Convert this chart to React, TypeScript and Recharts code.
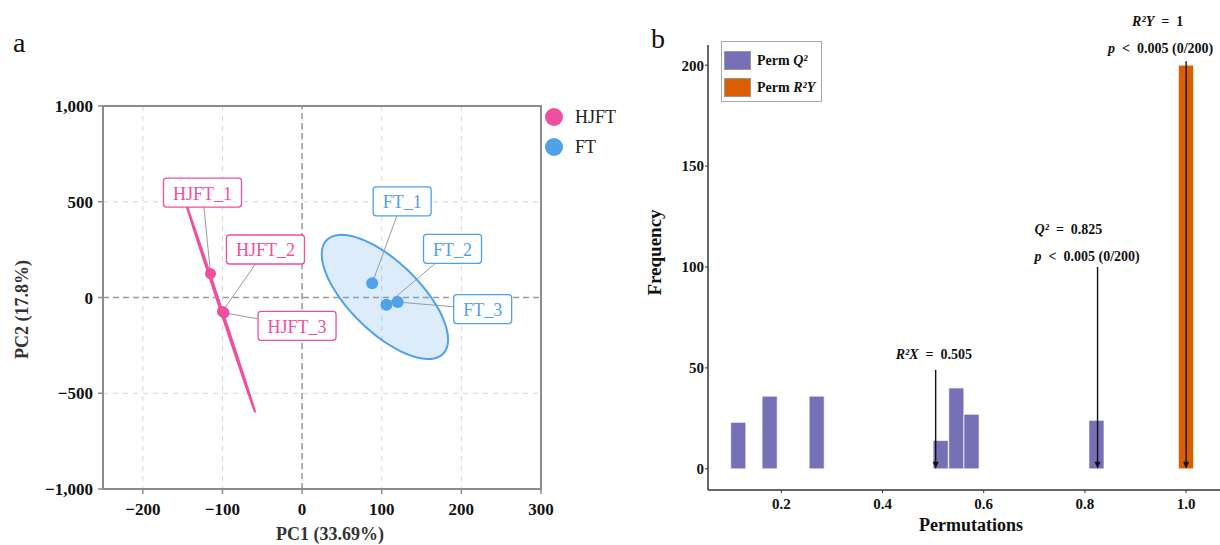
import React from 'react';
import {
  ScatterChart,
  Scatter,
  ComposedChart,
  Bar,
  Cell,
  XAxis,
  YAxis,
  CartesianGrid,
  ReferenceLine,
  ReferenceArea,
  Legend,
  Label,
} from 'recharts';

const SERIF = '"Liberation Serif", "Times New Roman", serif';

// ---- panel a: PCA scores ----
const HJFT_NAMES = ['HJFT_1', 'HJFT_2', 'HJFT_3'];
const HJFT_PC1 = [-115, -100, -98];
const HJFT_PC2 = [125, -73, -80];
const FT_NAMES = ['FT_1', 'FT_2', 'FT_3'];
const FT_PC1 = [88, 106, 120];
const FT_PC2 = [74, -38, -24];

const GROUPS = ['HJFT', 'FT'];
const GROUP_COLORS = ['#ef4f9f', '#4fa1ea'];

// confidence ellipses: centre + two half-axis vectors, in data units
const HJFT_ELLIPSE = { cx: -102, cy: -60, ux: 43, uy: -539, vx: 1.0, vy: 1.3 };
const FT_ELLIPSE = { cx: 104, cy: 3, ux: 73, uy: -297, vx: 31, vy: 130 };

const PC1_TICKS = [-200, -100, 0, 100, 200, 300];
const PC2_TICKS = [-1000, -500, 0, 500, 1000];

// label box offsets from the point, px
const LABEL_OFFSET: Record<string, [number, number]> = {
  HJFT_1: [-8, -81],
  HJFT_2: [43, -62],
  HJFT_3: [73, 13],
  FT_1: [30, -82],
  FT_2: [66, -56],
  FT_3: [85, 7],
};

// ---- panel b: permutation test ----
const Q2_BINS = [0.115, 0.177, 0.27, 0.515, 0.546, 0.576, 0.823];
const Q2_COUNTS = [23, 36, 36, 14, 40, 27, 24];
const R2Y_BINS = [1.0];
const R2Y_COUNTS = [200];
const PERM_X_TICKS = [0.2, 0.4, 0.6, 0.8, 1.0];
const FREQ_TICKS = [0, 50, 100, 150, 200];

const ANNOT_X = [0.505, 0.825, 1.0];
const ANNOT_TOP = [49, 100, 202];
type Seg = [string, boolean];
const ANNOT_TEXT: Seg[][][] = [
  [[['R²X', true], ['\u2002=\u20020.505', false]]],
  [
    [['Q²', true], ['\u2002=\u20020.825', false]],
    [['p', true], ['\u2002<\u20020.005 (0/200)', false]],
  ],
  [
    [['R²Y', true], ['\u2002=\u20021', false]],
    [['p', true], ['\u2002<\u20020.005 (0/200)', false]],
  ],
];
const ANNOT_LAYOUT: [number, number][][] = [
  [[-40, -16]],
  [[-63, -38], [-63, -11]],
  [[-54, -40], [-78, -13]],
];

const PURPLE = '#7671b6';
const ORANGE = '#d95f02';

const fmtMinus = (v: number) =>
  (v < 0 ? '\u2212' : '') + Math.abs(v).toLocaleString('en-US');

function ellipsePoints(e: typeof FT_ELLIPSE) {
  const pts = [];
  for (let i = 0; i <= 90; i++) {
    const t = (i / 90) * Math.PI * 2;
    pts.push({
      x: e.cx + e.ux * Math.cos(t) + e.vx * Math.sin(t),
      y: e.cy + e.uy * Math.cos(t) + e.vy * Math.sin(t),
    });
  }
  return pts;
}

const ellipsePath = (stroke: string, fill: string, opacity: number, width: number) =>
  (props: any) => {
    const d =
      props.points.map((p: any, i: number) => `${i ? 'L' : 'M'}${p.x},${p.y}`).join('') + 'Z';
    return <path d={d} fill={fill} fillOpacity={opacity} stroke={stroke} strokeWidth={width} />;
  };

const pointWithLabel = (color: string, r: number) => (props: any) => {
  const { cx, cy, payload } = props;
  const [dx, dy] = LABEL_OFFSET[payload.name];
  const w = payload.name.length * 10 + 18;
  const h = 29;
  const lx = cx + dx;
  const ly = cy + dy;
  return (
    <g>
      <line x1={cx} y1={cy} x2={lx} y2={ly} stroke="#9a9a9a" strokeWidth={1} />
      <rect x={lx - w / 2} y={ly - h / 2} width={w} height={h} rx={3} fill="#fff" stroke={color} strokeWidth={1.3} />
      <text x={lx} y={ly + 1} textAnchor="middle" dominantBaseline="central" fill={color} fontSize={18} fontFamily={SERIF}>
        {payload.name}
      </text>
      <circle cx={cx} cy={cy} r={r} fill={color} />
    </g>
  );
};

function PcaLegend() {
  return (
    <div style={{ fontFamily: SERIF, fontSize: 18, color: '#222' }}>
      {GROUPS.map((g, i) => (
        <div key={g} style={{ display: 'flex', alignItems: 'center', height: 30 }}>
          <svg width={20} height={20}>
            <circle cx={10} cy={10} r={9} fill={GROUP_COLORS[i]} />
          </svg>
          <span style={{ marginLeft: 11 }}>{g}</span>
        </div>
      ))}
    </div>
  );
}

function PcaChart() {
  const hjft = HJFT_NAMES.map((name, i) => ({ name, x: HJFT_PC1[i], y: HJFT_PC2[i] }));
  const ft = FT_NAMES.map((name, i) => ({ name, x: FT_PC1[i], y: FT_PC2[i] }));
  const tickStyle = { fill: '#111', fontSize: 17, fontWeight: 700, fontFamily: SERIF };
  const axisGrey = '#8c8c8c';
  const titleStyle = { fill: '#333', fontSize: 18, fontWeight: 700, fontFamily: SERIF };
  return (
    <ScatterChart width={640} height={545} margin={{ top: 106, right: 99, bottom: 26, left: 43 }}>
      <CartesianGrid stroke="#d6d6d6" strokeDasharray="5 5" />
      <XAxis
        type="number"
        dataKey="x"
        domain={[-250, 300]}
        ticks={PC1_TICKS}
        allowDataOverflow
        tickFormatter={fmtMinus}
        height={30}
        tick={tickStyle}
        tickSize={5}
        tickMargin={9}
        axisLine={{ stroke: axisGrey, strokeWidth: 2 }}
        tickLine={{ stroke: axisGrey, strokeWidth: 1.5 }}
      >
        <Label value="PC1 (33.69%)" position="bottom" offset={8} dx={8} style={titleStyle} />
      </XAxis>
      <YAxis
        type="number"
        dataKey="y"
        domain={[-1000, 1000]}
        ticks={PC2_TICKS}
        allowDataOverflow
        tickFormatter={fmtMinus}
        width={60}
        tick={tickStyle}
        tickSize={5}
        tickMargin={5}
        axisLine={{ stroke: axisGrey, strokeWidth: 2 }}
        tickLine={{ stroke: axisGrey, strokeWidth: 1.5 }}
      >
        <Label value="PC2 (17.8%)" position="center" angle={-90} dx={-51} dy={12} style={titleStyle} />
      </YAxis>
      <ReferenceLine x={0} stroke="#9a9a9a" strokeWidth={1.5} strokeDasharray="6 4" />
      <ReferenceLine y={0} stroke="#9a9a9a" strokeWidth={1.5} strokeDasharray="6 4" />
      <ReferenceArea x1={-250} x2={300} y1={-1000} y2={1000} fill="none" fillOpacity={0} stroke={axisGrey} strokeWidth={2} />
      <Scatter
        data={ellipsePoints(HJFT_ELLIPSE)}
        isAnimationActive={false}
        line={ellipsePath(GROUP_COLORS[0], GROUP_COLORS[0], 0.5, 2)}
        shape={() => <g />}
        legendType="none"
      />
      <Scatter
        data={ellipsePoints(FT_ELLIPSE)}
        isAnimationActive={false}
        line={ellipsePath(GROUP_COLORS[1], GROUP_COLORS[1], 0.2, 2)}
        shape={() => <g />}
        legendType="none"
      />
      <Scatter name="HJFT" data={hjft} isAnimationActive={false} shape={pointWithLabel(GROUP_COLORS[0], 5.5)} />
      <Scatter name="FT" data={ft} isAnimationActive={false} shape={pointWithLabel(GROUP_COLORS[1], 6)} />
      <Legend
        layout="vertical"
        align="center"
        verticalAlign="middle"
        content={() => <PcaLegend />}
        wrapperStyle={{ left: 544, top: 102, width: 'auto' }}
      />
    </ScatterChart>
  );
}

function Arrow(p: any) {
  const { x1, y1, x2, y2, lines, layout } = p;
  const top = Math.min(y1, y2);
  const bottom = Math.max(y1, y2);
  const x = (x1 + x2) / 2;
  return (
    <g>
      <line x1={x} y1={top} x2={x} y2={bottom - 5} stroke="#111" strokeWidth={1.4} />
      <polygon points={`${x - 3},${bottom - 7} ${x + 3},${bottom - 7} ${x},${bottom}`} fill="#111" />
      {lines.map((segs: Seg[], j: number) => (
        <text
          key={j}
          x={x + layout[j][0]}
          y={top + layout[j][1]}
          dominantBaseline="central"
          fontFamily={SERIF}
          fontWeight={700}
          fontSize={14}
          fill="#111"
          style={{ whiteSpace: 'pre' }}
        >
          {segs.map(([t, it], k) => (
            <tspan key={k} fontStyle={it ? 'italic' : 'normal'}>{t}</tspan>
          ))}
        </text>
      ))}
    </g>
  );
}

function PermLegend() {
  const items: [string, string, string][] = [
    [PURPLE, 'Q', '²'],
    [ORANGE, 'R', '²Y'],
  ];
  return (
    <div
      style={{
        border: '1px solid #a8a8a8',
        width: 101,
        height: 61,
        boxSizing: 'border-box',
        padding: '5px 0 0 2px',
        fontFamily: SERIF,
        fontWeight: 700,
        fontSize: 14,
        color: '#111',
        background: '#fff',
      }}
    >
      {items.map(([c, a, b], i) => (
        <div key={i} style={{ display: 'flex', alignItems: 'center', height: 27 }}>
          <div style={{ width: 27, height: 19, background: c, border: '1px solid #999', boxSizing: 'border-box' }} />
          <span style={{ marginLeft: 6 }}>
            Perm <i>{a}</i>
            <i>{b}</i>
          </span>
        </div>
      ))}
    </div>
  );
}

function PermChart() {
  const hist = [
    ...Q2_BINS.map((x, i) => ({ x, count: Q2_COUNTS[i], group: 'q2' })),
    ...R2Y_BINS.map((x, i) => ({ x, count: R2Y_COUNTS[i], group: 'r2y' })),
  ];
  const tickStyle = { fill: '#111', fontSize: 15, fontWeight: 700, fontFamily: SERIF };
  const axisC = '#333';
  return (
    <ComposedChart width={580} height={545} data={hist} margin={{ top: 45, right: 0, bottom: 25, left: 18 }}>
      <XAxis
        type="number"
        dataKey="x"
        domain={[0.055, 1.067]}
        ticks={PERM_X_TICKS}
        allowDataOverflow
        tickFormatter={(v: number) => v.toFixed(1)}
        height={30}
        tick={tickStyle}
        tickSize={3}
        tickMargin={5}
        axisLine={{ stroke: axisC, strokeWidth: 1.5 }}
        tickLine={{ stroke: axisC }}
      >
        <Label value="Permutations" position="bottom" offset={-2} dx={7}
          style={{ fill: '#111', fontSize: 18, fontWeight: 700, fontFamily: SERIF }} />
      </XAxis>
      <YAxis
        type="number"
        domain={[-10.5, 210]}
        ticks={FREQ_TICKS}
        allowDataOverflow
        width={50}
        tick={tickStyle}
        tickSize={3}
        tickMargin={1}
        axisLine={{ stroke: axisC, strokeWidth: 1.5 }}
        tickLine={{ stroke: axisC }}
      >
        <Label value="Frequency" position="center" angle={-90} dx={-29} dy={-15}
          style={{ fill: '#111', fontSize: 19, fontWeight: 700, fontFamily: SERIF }} />
      </YAxis>
      <Bar dataKey="count" barSize={15} isAnimationActive={false} stroke="#fff" strokeWidth={0.6}>
        {hist.map((d, i) => (
          <Cell key={i} fill={d.group === 'q2' ? PURPLE : ORANGE} />
        ))}
      </Bar>
      {ANNOT_X.map((x, i) => (
        <ReferenceLine
          key={i}
          segment={[{ x, y: ANNOT_TOP[i] }, { x, y: 0 }]}
          stroke="#111"
          shape={(p: any) => <Arrow {...p} lines={ANNOT_TEXT[i]} layout={ANNOT_LAYOUT[i]} />}
        />
      ))}
      <Legend
        layout="vertical"
        align="center"
        verticalAlign="middle"
        content={() => <PermLegend />}
        wrapperStyle={{ left: 81, top: 41, width: 'auto' }}
      />
    </ComposedChart>
  );
}

export default function App() {
  return (
    <div style={{ position: 'absolute', left: 0, top: 0, width: 1220, height: 545, background: '#fff', fontFamily: SERIF }}>
      <div style={{ position: 'absolute', left: 0, top: 0 }}>
        <PcaChart />
      </div>
      <div style={{ position: 'absolute', left: 640, top: 0 }}>
        <PermChart />
      </div>
      <div style={{ position: 'absolute', left: 13, top: 29, fontSize: 28, lineHeight: '28px', color: '#111' }}>a</div>
      <div style={{ position: 'absolute', left: 651, top: 25, fontSize: 28, lineHeight: '28px', color: '#111' }}>b</div>
    </div>
  );
}
